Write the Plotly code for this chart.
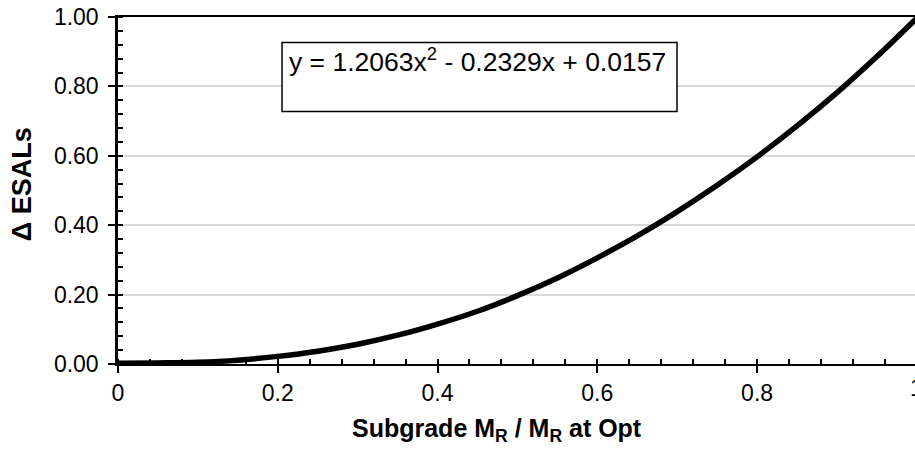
import plotly.graph_objects as go

# Data
x_vals = [0.0, 0.05, 0.10, 0.15, 0.20, 0.25, 0.30, 0.35, 0.40, 0.45, 0.50,
          0.55, 0.60, 0.65, 0.70, 0.75, 0.80, 0.85, 0.90, 0.95, 1.00]
y_vals = [0.002, 0.003, 0.005, 0.011, 0.022, 0.037, 0.057, 0.083, 0.115, 0.152, 0.197,
          0.248, 0.306, 0.369, 0.439, 0.515, 0.597, 0.686, 0.782, 0.886, 0.997]

x_tickvals = [0, 0.2, 0.4, 0.6, 0.8]
x_ticktext = ["0", "0.2", "0.4", "0.6", "0.8"]
y_tickvals = [0, 0.2, 0.4, 0.6, 0.8, 1.0]
y_ticktext = ["0.00", "0.20", "0.40", "0.60", "0.80", "1.00"]

equation = "y = 1.2063x<sup>2</sup> - 0.2329x + 0.0157"
x_title = "Subgrade M<sub>R</sub> / M<sub>R</sub> at Opt"
y_title = "Δ ESALs"

FONT = "Liberation Sans, Arial, sans-serif"

X_RANGE = [0, 0.9977]
Y_RANGE = [0, 1.0]

fig = go.Figure()
fig.add_trace(go.Scatter(x=x_vals, y=y_vals, mode="lines",
                         line=dict(color="black", width=5.5, shape="spline", smoothing=1.0),
                         showlegend=False, hoverinfo="skip", cliponaxis=True))
# invisible trace on overlay axes (for inward major ticks)
fig.add_trace(go.Scatter(x=[x_vals[0]], y=[y_vals[0]], xaxis="x2", yaxis="y2",
                         mode="markers", marker=dict(opacity=0), showlegend=False,
                         hoverinfo="skip"))

fig.update_layout(
    width=915, height=449,
    margin=dict(l=118, r=0, t=17, b=85),
    paper_bgcolor="white", plot_bgcolor="white",
    font=dict(family=FONT, size=23, color="black"),
    xaxis=dict(range=X_RANGE, tickvals=x_tickvals, ticktext=x_ticktext,
               ticks="outside", ticklen=7, tickwidth=1.5, tickcolor="black",
               minor=dict(ticks="inside", dtick=0.04, tick0=0, ticklen=5,
                          tickwidth=1.5, tickcolor="black"),
               showline=True, linecolor="black", linewidth=2, mirror=True,
               showgrid=False, zeroline=False,
               ticklabelstandoff=0,
               tickfont=dict(size=23, family=FONT)),
    yaxis=dict(range=Y_RANGE, tickvals=y_tickvals, ticktext=y_ticktext,
               ticks="outside", ticklen=7, tickwidth=1.5, tickcolor="black",
               minor=dict(ticks="inside", dtick=0.04, tick0=0, ticklen=5,
                          tickwidth=1.5, tickcolor="black"),
               showline=True, linecolor="black", linewidth=2.5,
               showgrid=True, gridcolor="#d9d9d9", gridwidth=1.5, zeroline=False,
               ticklabelstandoff=5,
               tickfont=dict(size=23, family=FONT)),
    xaxis2=dict(overlaying="x", matches="x", range=X_RANGE, tickvals=x_tickvals,
                ticks="inside", ticklen=5, tickwidth=1.5, tickcolor="black",
                showticklabels=False, showgrid=False, zeroline=False, showline=False),
    yaxis2=dict(overlaying="y", matches="y", range=Y_RANGE, tickvals=y_tickvals,
                ticks="inside", ticklen=5, tickwidth=1.5, tickcolor="black",
                showticklabels=False, showgrid=False, zeroline=False, showline=False),
)

# axis titles
fig.add_annotation(text=x_title, xref="paper", yref="paper", x=0.4755, y=0,
                   xanchor="center", yanchor="middle", yshift=-66, showarrow=False,
                   font=dict(size=25, family=FONT, color="black", weight="bold"))
fig.add_annotation(text=y_title, xref="paper", yref="paper", x=0, y=0.518,
                   xanchor="center", yanchor="middle", xshift=-96, textangle=-90,
                   showarrow=False,
                   font=dict(size=27, family=FONT, color="black", weight="bold"))

# equation box
fig.add_shape(type="rect", xref="paper", yref="paper",
              x0=0.2058, x1=0.7014, y0=0.7277, y1=0.9265,
              line=dict(color="black", width=1.5), fillcolor="white", layer="above")
fig.add_annotation(text=equation, xref="paper", yref="paper", x=0.212, y=0.93,
                   xanchor="left", yanchor="top", showarrow=False,
                   font=dict(size=26.5, family=FONT, color="black"))
# partially visible "1" tick label at the right edge
fig.add_annotation(text="1", xref="paper", yref="paper", x=1.0025, y=0,
                   xanchor="center", yanchor="top", yshift=-9, showarrow=False,
                   font=dict(size=23, family=FONT, color="black"))

fig.write_html("out.html")
